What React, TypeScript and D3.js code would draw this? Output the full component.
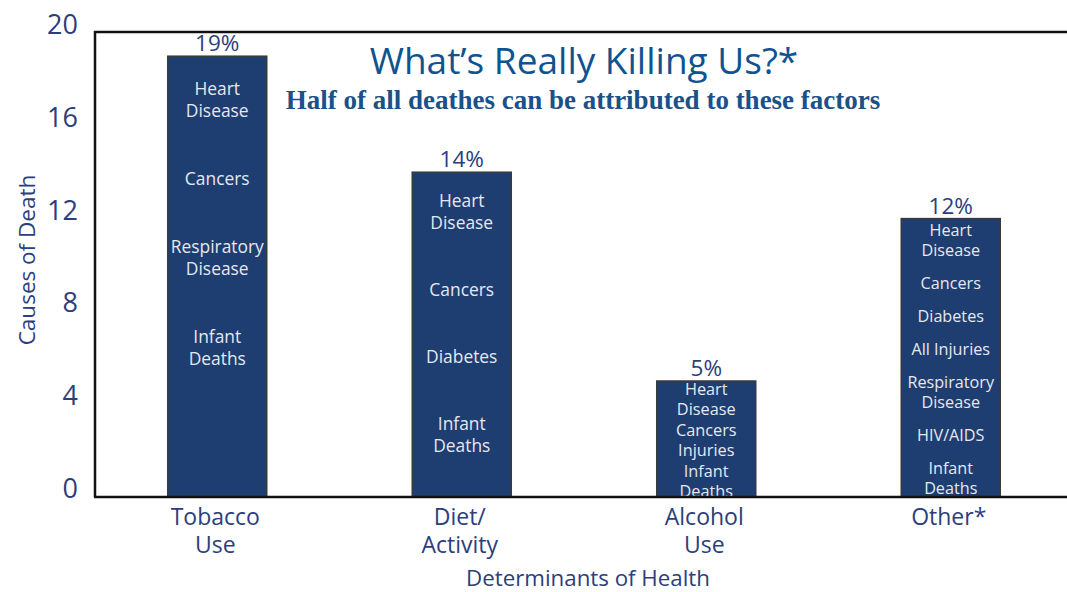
import React from "react";
import * as d3 from "d3";

const categories = ["Tobacco\nUse", "Diet/\nActivity", "Alcohol\nUse", "Other*"];
const values = [19, 14, 5, 12];
const percentLabels = ["19%", "14%", "5%", "12%"];
const causes: string[][][] = [
  [["Heart", "Disease"], ["Cancers"], ["Respiratory", "Disease"], ["Infant", "Deaths"]],
  [["Heart", "Disease"], ["Cancers"], ["Diabetes"], ["Infant", "Deaths"]],
  [["Heart", "Disease"], ["Cancers"], ["Injuries"], ["Infant", "Deaths"]],
  [["Heart", "Disease"], ["Cancers"], ["Diabetes"], ["All Injuries"], ["Respiratory", "Disease"], ["HIV/AIDS"], ["Infant", "Deaths"]],
];
const yTicks = [0, 4, 8, 12, 16, 20];

// per-bar text layout styles: offset of first line from bar top, line height, extra gap between groups, font size
const labelLayout = [
  { first: 33, lh: 22, gap: 46, fs: 17.4 },
  { first: 29, lh: 22, gap: 45, fs: 17.4 },
  { first: 8, lh: 20.5, gap: 0, fs: 16.3 },
  { first: 12, lh: 20, gap: 13, fs: 16.2 },
];

const W = 1067;
const H = 592;
const left = 95;
const top = 33;
const bottom = 497;

export default function App() {
  const x = d3.scaleBand<string>().domain(categories).range([left, 1073]).paddingInner(0.595).paddingOuter(0.2975);
  const y = d3.scaleLinear().domain([0, 20]).range([bottom, top]);
  const sans = "'Open Sans', Lato, sans-serif";
  const navy = "#2c3e7c";
  return (
    <svg width={W} height={H} style={{ position: "absolute", left: 0, top: 0, background: "#fff" }}>
      {categories.map((c, i) => {
        const bx = x(c)!;
        const bw = x.bandwidth();
        const by = y(values[i]);
        const L = labelLayout[i];
        let cy = by + L.first;
        const lines: { t: string; yy: number }[] = [];
        causes[i].forEach((g, gi) => {
          if (gi > 0) cy += L.gap;
          g.forEach((t) => {
            lines.push({ t, yy: cy });
            cy += L.lh;
          });
        });
        return (
          <g key={c}>
            <rect x={bx} y={by} width={bw} height={y(0) - by} fill="#1e3d71" stroke="#3a3a3a" strokeWidth={1.5} />
            <text x={bx + bw / 2} y={by - 5} textAnchor="middle" fontFamily={sans} fontSize={22.5} fill={navy}>
              {percentLabels[i]}
            </text>
            <text textAnchor="middle" fontFamily={sans} fontSize={L.fs} fill="#e6e8f0">
              {lines.map((l, k) => (
                <tspan key={k} x={bx + bw / 2} y={l.yy} dy="0.35em">
                  {l.t}
                </tspan>
              ))}
            </text>
          </g>
        );
      })}
      <line x1={left - 1} x2={W} y1={top - 1} y2={top - 1} stroke="#111" strokeWidth={2.5} />
      <line x1={left} x2={left} y1={top - 2} y2={bottom} stroke="#111" strokeWidth={2.5} />
      <line x1={left - 1} x2={W} y1={bottom} y2={bottom} stroke="#111" strokeWidth={2.5} />
      {yTicks.map((t) => (
        <text key={t} x={78} y={y(t) + 1} textAnchor="end" fontFamily={sans} fontSize={27} fill={navy}>
          {t}
        </text>
      ))}
      <text transform={`translate(35,260) rotate(-90)`} textAnchor="middle" fontFamily={sans} fontSize={22.5} fill={navy}>
        Causes of Death
      </text>
      {categories.map((c) => (
        <text key={c} textAnchor="middle" fontFamily={sans} fontSize={23} fill={navy}>
          {c.split("\n").map((t, k) => (
            <tspan key={k} x={x(c)! + x.bandwidth() / 2 - 2} y={525 + k * 28}>
              {t}
            </tspan>
          ))}
        </text>
      ))}
      <text x={588} y={586} textAnchor="middle" fontFamily={sans} fontSize={22.3} fill={navy}>
        Determinants of Health
      </text>
      <text x={584} y={74} textAnchor="middle" fontFamily={sans} fontSize={37} fill="#0f5391">
        What’s Really Killing Us?*
      </text>
      <text x={583} y={109} textAnchor="middle" fontFamily="'Liberation Serif', serif" fontWeight="bold" fontSize={27} fill="#1b5089">
        Half of all deathes can be attributed to these factors
      </text>
    </svg>
  );
}
